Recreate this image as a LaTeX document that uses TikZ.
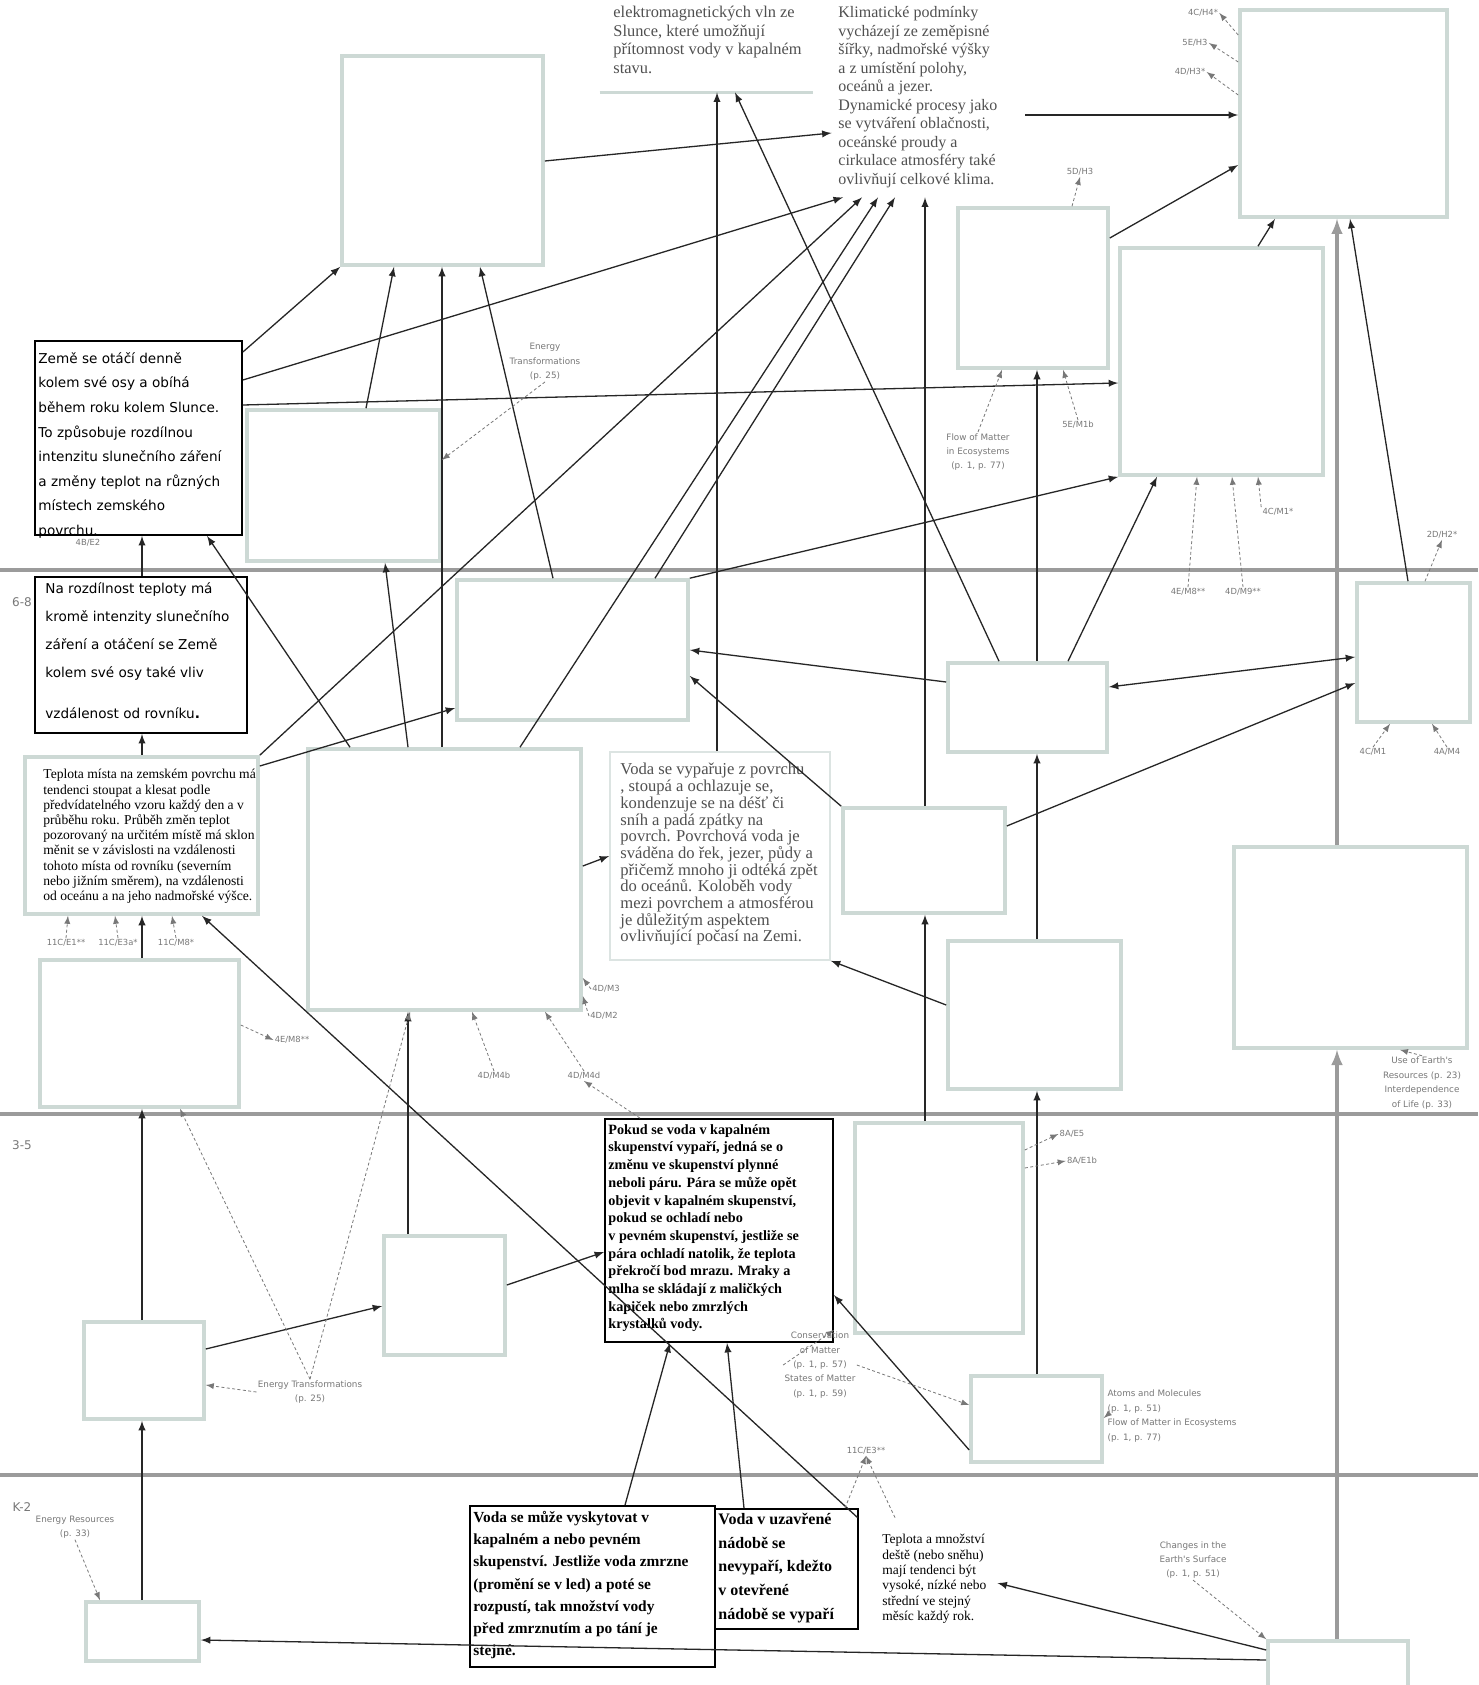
\documentclass[tikz,border=0pt]{standalone}
\usepackage{fontspec}
\setmainfont{Liberation Serif}
\newfontfamily\verdanafont{DejaVu Sans}
\usepackage{tikz}
\usetikzlibrary{arrows,calc,positioning}

\definecolor{boxline}{RGB}{205,217,213}
\definecolor{gradeline}{RGB}{155,155,155}
\definecolor{codegray}{RGB}{120,120,120}
\definecolor{greytext}{RGB}{80,80,80}

\tikzset{
  emptybox/.style={draw=boxline, line width=1.8pt, fill=white, inner sep=0pt},
  blackbox/.style={draw=black, line width=0.9pt, fill=white, inner sep=0pt},
  plainbox/.style={inner sep=0pt},
  link/.style={-latex, line width=0.65pt, black!85},
  greylink/.style={-latex, line width=1.6pt, gradeline},
  codelink/.style={-latex, dash pattern=on 1.5pt off 1.2pt, line width=0.4pt, codegray},
  code/.style={font=\verdanafont\fontsize{4.2}{5.2}\selectfont, text=codegray, inner sep=0.5pt, align=center},
  topic/.style={font=\verdanafont\fontsize{4.4}{7.2}\selectfont, text=codegray, inner sep=0.5pt, align=center},
  band/.style={font=\verdanafont\fontsize{6}{7}\selectfont, text=codegray},
  grade/.style={line width=2pt, gradeline},
  txt/.style={anchor=north west, inner sep=0pt, align=left},
}

\begin{document}
\begin{tikzpicture}[x=0.5pt, y=-0.5pt]
\useasboundingbox[fill=white] (0,0) rectangle (1478,1685);

% grade bands
\draw[grade] (0,570) -- (1478,570);
\draw[grade] (0,1114) -- (1478,1114);
\draw[grade] (0,1475) -- (1478,1475);
\node[band] (g68) at (22,602) {6-8};
\node[band] (g35) at (22,1145) {3-5};
\node[band] (gK2) at (22,1507) {K-2};

% empty boxes
\node[emptybox, minimum width=100.5pt, minimum height=104.5pt] (A) at (442.5,160.5) {};
\node[emptybox, minimum width=103.5pt, minimum height=103.5pt] (B) at (1343.5,113.5) {};
\node[emptybox, minimum width=75pt, minimum height=80pt] (C) at (1033,288) {};
\node[emptybox, minimum width=101.5pt, minimum height=113.5pt] (D) at (1221.5,361.5) {};
\node[emptybox, minimum width=96.5pt, minimum height=75.5pt] (F) at (343.5,485.5) {};
\node[emptybox, minimum width=136.5pt, minimum height=130.5pt] (I) at (444.5,879.5) {};
\node[emptybox, minimum width=115.5pt, minimum height=70pt] (J) at (572.5,650) {};
\node[emptybox, minimum width=79.5pt, minimum height=44.5pt] (K) at (1027.5,707.5) {};
\node[emptybox, minimum width=56.5pt, minimum height=69.5pt] (L) at (1413.5,652.5) {};
\node[emptybox, minimum width=81pt, minimum height=52.5pt] (N) at (924,860.5) {};
\node[emptybox, minimum width=116.5pt, minimum height=100.5pt] (O) at (1350.5,947.5) {};
\node[emptybox, minimum width=86.5pt, minimum height=74pt] (P) at (1034.5,1015) {};
\node[emptybox, minimum width=99.5pt, minimum height=73.5pt] (Q) at (139.5,1033.5) {};
\node[emptybox, minimum width=84pt, minimum height=105pt] (R) at (939,1228) {};
\node[emptybox, minimum width=60.5pt, minimum height=59.5pt] (T) at (444.5,1295.5) {};
\node[emptybox, minimum width=60pt, minimum height=48.5pt] (U) at (144,1370.5) {};
\node[emptybox, minimum width=65.5pt, minimum height=43pt] (V) at (1036.5,1419) {};
\node[emptybox, minimum width=56.5pt, minimum height=29.5pt] (Z) at (142.5,1631.5) {};
\node[emptybox, minimum width=70pt, minimum height=24.5pt] (AA) at (1338,1665.5) {};

% boxes with text
\node[plainbox, minimum width=106.5pt, minimum height=76pt] (Sun) at (706.5,16) {};
\draw[boxline, line width=1.8pt] (Sun.south west) -- (Sun.south east);
\node[txt, text=greytext, font=\fontsize{8.2}{9.2}\selectfont] (Suntext) at (613,6)
  {elektromagnetických vln ze\\Slunce, které umožňují\\přítomnost vody v kapalném\\stavu.};

\node[plainbox, minimum width=96.5pt, minimum height=98.5pt] (Clim) at (928.5,98.5) {};
\node[txt, text=greytext, font=\fontsize{8}{9.25}\selectfont] (Climtext) at (838,6)
  {Klimatické podmínky\\vycházejí ze zeměpisné\\šířky, nadmořské výšky\\a z umístění polohy,\\oceánů a jezer.\\Dynamické procesy jako\\se vytváření oblačnosti,\\oceánské proudy a\\cirkulace atmosféry také\\ovlivňují celkové klima.};

\node[blackbox, minimum width=103.5pt, minimum height=97pt] (E) at (138.5,438) {};
\node[txt, font=\verdanafont\fontsize{6.8}{12.3}\selectfont] (Etext) at (38,352)
  {Země se otáčí denně\\kolem své osy a obíhá\\během roku kolem Slunce.\\To způsobuje rozdílnou\\intenzitu slunečního záření\\a změny teplot na různých\\místech zemského\\povrchu.};

\node[blackbox, minimum width=106pt, minimum height=78pt] (G) at (141,655) {};
\node[txt, font=\verdanafont\fontsize{6.8}{14}\selectfont] (Gtext) at (45,582)
  {Na rozdílnost teploty má\\kromě intenzity slunečního\\záření a otáčení se Země\\kolem své osy také vliv\\[6.5pt]vzdálenost od rovníku\textbf{.}};

\node[emptybox, minimum width=116.5pt, minimum height=78.5pt] (H) at (141.5,835.5) {};
\node[txt, font=\fontsize{6.8}{7.6}\selectfont] (Htext) at (43,769)
  {Teplota místa na zemském povrchu má\\tendenci stoupat a klesat podle\\předvídatelného vzoru každý den a v\\průběhu roku. Průběh změn teplot\\pozorovaný na určitém místě má sklon\\měnit se v závislosti na vzdálenosti\\tohoto místa od rovníku (severním\\nebo jižním směrem), na vzdálenosti\\od oceánu a na jeho nadmořské výšce.};

\node[plainbox, draw=boxline!70, line width=0.8pt, fill=white, minimum width=110pt, minimum height=104pt] (Mb) at (720,856) {};
\node[txt, text=greytext, font=\fontsize{8.3}{8.35}\selectfont] (Mtext) at (620,763)
  {Voda se vypařuje z povrchu\\, stoupá a ochlazuje se,\\kondenzuje se na déšť či\\sníh a padá zpátky na\\povrch. Povrchová voda je\\sváděna do řek, jezer, půdy a\\přičemž mnoho ji odtéká zpět\\do oceánů. Koloběh vody\\mezi povrchem a atmosférou\\je důležitým aspektem\\ovlivňující počasí na Zemi.};

\node[blackbox, minimum width=114pt, minimum height=111.5pt] (S) at (719,1230.5) {};
\node[txt, font=\bfseries\fontsize{7.1}{8.85}\selectfont] (Stext) at (608,1124)
  {Pokud se voda v kapalném\\skupenství vypaří, jedná se o\\změnu ve skupenství plynné\\neboli páru. Pára se může opět\\objevit v kapalném skupenství,\\pokud se ochladí nebo\\v pevném skupenství, jestliže se\\pára ochladí natolik, že teplota\\překročí bod mrazu. Mraky a\\mlha se skládají z maličkých\\kapiček nebo zmrzlých\\krystalků vody.};

\node[blackbox, minimum width=122.5pt, minimum height=80.5pt] (W) at (592.5,1586.5) {};
\node[txt, font=\bfseries\fontsize{7.7}{11.1}\selectfont] (Wtext) at (473,1511)
  {Voda se může vyskytovat v\\kapalném a nebo pevném\\skupenství. Jestliže voda zmrzne\\(promění se v led) a poté se\\rozpustí, tak množství vody\\před zmrznutím a po tání je\\stejné.};

\node[blackbox, minimum width=71.5pt, minimum height=60pt] (X) at (786.5,1569) {};
\node[txt, font=\bfseries\fontsize{8}{11.8}\selectfont] (Xtext) at (718,1513)
  {Voda v uzavřené\\nádobě se\\nevypaří, kdežto\\v otevřené\\nádobě se vypaří};

\node[plainbox, minimum width=69.5pt, minimum height=46pt] (Ybox) at (927.5,1564) {};
\node[txt, font=\fontsize{6.75}{7.65}\selectfont] (Ytext) at (882,1534)
  {Teplota a množství\\deště (nebo sněhu)\\mají tendenci být\\vysoké, nízké nebo\\střední ve stejný\\měsíc každý rok.};

% connectors
\draw[link] (A.east |- 0,161) -- (Clim.west |- 0,133);
\draw[link] (Mb.north -| 717,0) -- (Sun.south -| 717,0);
\draw[link] (K.north -| 999,0) -- (Sun.south -| 735,0);
\draw[link] (Clim.east |- 0,115) -- (B.west |- 0,115);
\draw[link] (C.east |- 0,238) -- (B.west |- 0,165);
\draw[link] (D.north -| 1258,0) -- (B.south -| 1275,0);
\draw[link] (L.north -| 1408,0) -- (B.south -| 1350,0);
\draw[greylink] (O.north -| 1337,0) -- (B.south -| 1337,0);
\draw[greylink] (AA.north -| 1337,0) -- (O.south -| 1337,0);
\draw[link] (E.east |- 0,352) -- (A.south west);
\draw[link] (E.east |- 0,380) -- (Clim.south -| 843,0);
\draw[link] (E.east |- 0,405) -- (D.west |- 0,383);
\draw[link] (F.north -| 366,0) -- (A.south -| 394,0);
\draw[link] (I.north -| 442,0) -- (A.south -| 442,0);
\draw[link] (J.north -| 553,0) -- (A.south -| 480,0);
\draw[link] (I.north -| 350,0) -- (E.south -| 207,0);
\draw[link] (I.north -| 408,0) -- (F.south -| 385,0);
\draw[link] (H.north east) -- (Clim.south -| 862,0);
\draw[link] (H.east |- 0,766) -- (J.west |- 0,708);
\draw[link] (I.north -| 520,0) -- (Clim.south -| 878,0);
\draw[link] (J.north -| 655,0) -- (Clim.south -| 895,0);
\draw[link] (N.north -| 925,0) -- (Clim.south -| 925,0);
\draw[link] (K.north -| 1037,0) -- (C.south -| 1037,0);
\draw[link] (K.north -| 1068,0) -- (D.south -| 1157,0);
\draw[link] (J.north east) -- (D.south west);
\draw[link] (K.west |- 0,682) -- (J.east |- 0,650);
\draw[link] (N.north west) -- (J.east |- 0,676);
\draw[latex-latex, line width=0.65pt, black!85] (K.east |- 0,687) -- (L.west |- 0,657);
\draw[link] (N.east |- 0,826) -- (L.west |- 0,683);
\draw[link] (I.east |- 0,866) -- (Mb.west |- 0,856);
\draw[link] (P.west |- 0,1005) -- (Mb.south east);
\draw[link] (P.north -| 1037,0) -- (K.south -| 1037,0);
\draw[link] (V.north -| 1037,0) -- (P.south -| 1037,0);
\draw[link] (R.north -| 925,0) -- (N.south -| 925,0);
\draw[link] (Ybox.north west) -- (H.south -| 202,0);
\draw[link] (V.west |- 0,1450) -- (S.east |- 0,1295);
\draw[link] (W.north -| 625,0) -- (S.south -| 670,0);
\draw[link] (X.north -| 744,0) -- (S.south -| 727,0);
\draw[link] (T.east |- 0,1285) -- (S.west |- 0,1252);
\draw[link] (U.east |- 0,1349) -- (T.west |- 0,1306);
\draw[link] (Z.north -| 142,0) -- (U.south -| 142,0);
\draw[link] (U.north -| 142,0) -- (Q.south -| 142,0);
\draw[link] (Q.north -| 142,0) -- (H.south -| 142,0);
\draw[link] (H.north -| 142,0) -- (G.south -| 142,0);
\draw[link] (G.north -| 142,0) -- (E.south -| 142,0);
\draw[link] (T.north -| 408,0) -- (I.south -| 408,0);
\draw[link] (AA.west |- 0,1660) -- (Z.east |- 0,1640);
\draw[link] (AA.west |- 0,1650) -- (Ybox.east |- 0,1583);

% benchmark codes and related topics
\node[code] (k1) at (1203,13) {4C/H4*};
\node[code] (k2) at (1195,43) {5E/H3};
\node[code] (k3) at (1190,72) {4D/H3*};
\draw[codelink] (B.west |- 0,35) -- (k1.east);
\draw[codelink] (B.west |- 0,62) -- (k2.east);
\draw[codelink] (B.west |- 0,95) -- (k3.east);
\node[code] (k4) at (1080,172) {5D/H3};
\draw[codelink] (C.north -| 1072,0) -- (k4.south);
\node[topic] (t1) at (978,452) {Flow of Matter\\in Ecosystems\\(p. 1, p. 77)};
\draw[codelink] (t1.north) -- (C.south -| 1002,0);
\node[code] (k5) at (1078,425) {5E/M1b};
\draw[codelink] (k5.north) -- (C.south -| 1063,0);
\node[code] (k6) at (1278,512) {4C/M1*};
\draw[codelink] (k6.north west) -- (D.south -| 1258,0);
\node[code] (k7) at (1188,592) {4E/M8**};
\node[code] (k8) at (1243,592) {4D/M9**};
\draw[codelink] (k7.north) -- (D.south -| 1197,0);
\draw[codelink] (k8.north) -- (D.south -| 1232,0);
\node[code] (k9) at (1442,535) {2D/H2*};
\draw[codelink] (L.north -| 1425,0) -- (k9.south);
\node[code] (k10) at (1373,752) {4C/M1};
\node[code] (k11) at (1447,752) {4A/M4};
\draw[codelink] (k10.north) -- (L.south -| 1390,0);
\draw[codelink] (k11.north) -- (L.south -| 1432,0);
\node[topic] (t2) at (545,362) {Energy\\Transformations\\(p. 25)};
\draw[codelink] (t2.south) -- (F.east |- 0,460);
\node[code] (k12) at (88,543) {4B/E2};
\node[code] (k13) at (66,943) {11C/E1**};
\node[code] (k14) at (118,943) {11C/E3a*};
\node[code] (k15) at (176,943) {11C/M8*};
\draw[codelink] (k13.north) -- (H.south -| 68,0);
\draw[codelink] (k14.north) -- (H.south -| 115,0);
\draw[codelink] (k15.north) -- (H.south -| 172,0);
\node[code] (k16) at (292,1040) {4E/M8**};
\draw[codelink] (Q.east |- 0,1025) -- (k16.west);
\node[code] (k17) at (606,989) {4D/M3};
\node[code] (k18) at (604,1016) {4D/M2};
\draw[codelink] (k17.west) -- (I.east |- 0,978);
\draw[codelink] (k18.west) -- (I.east |- 0,996);
\node[code] (k19) at (494,1076) {4D/M4b};
\node[code] (k20) at (584,1076) {4D/M4d};
\draw[codelink] (k19.north) -- (I.south -| 472,0);
\draw[codelink] (k20.north) -- (I.south -| 545,0);
\draw[codelink] (S.north -| 640,0) -- (k20.south);
\node[topic] (t3) at (1422,1083) {Use of Earth's\\Resources (p. 23)\\Interdependence\\of Life (p. 33)};
\draw[codelink] (t3.north) -- (O.south -| 1400,0);
\node[code] (k21) at (1072,1134) {8A/E5};
\node[code] (k22) at (1082,1161) {8A/E1b};
\draw[codelink] (R.east |- 0,1150) -- (k21.west);
\draw[codelink] (R.east |- 0,1168) -- (k22.west);
\node[topic] (t4) at (820,1365) {Conservation\\of Matter\\(p. 1, p. 57)\\States of Matter\\(p. 1, p. 59)};
\draw[codelink] (t4.east) -- (V.west |- 0,1405);
\draw[codelink] (t4.west) -- (S.east |- 0,1330);
\node[topic] (t5) at (310,1392) {Energy Transformations\\(p. 25)};
\draw[codelink] (t5.west) -- (U.east |- 0,1385);
\draw[codelink] (t5.north) -- (Q.south -| 180,0);
\draw[codelink] (t5.north) -- (I.south -| 410,0);
\node[topic, align=left] (t6) at (1172,1416) {Atoms and Molecules\\(p. 1, p. 51)\\Flow of Matter in Ecosystems\\(p. 1, p. 77)};
\draw[codelink] (t6.west) -- (V.east |- 0,1418);
\node[code] (k23) at (866,1451) {11C/E3**};
\draw[codelink] (X.north -| 845,0) -- (k23.south);
\draw[codelink] (Ybox.north -| 895,0) -- (k23.south);
\node[topic] (t7) at (75,1527) {Energy Resources\\(p. 33)};
\draw[codelink] (t7.south) -- (Z.north -| 100,0);
\node[topic] (t8) at (1193,1560) {Changes in the\\Earth's Surface\\(p. 1, p. 51)};
\draw[codelink] (t8.south) -- (AA.north west);
\end{tikzpicture}
\end{document}
